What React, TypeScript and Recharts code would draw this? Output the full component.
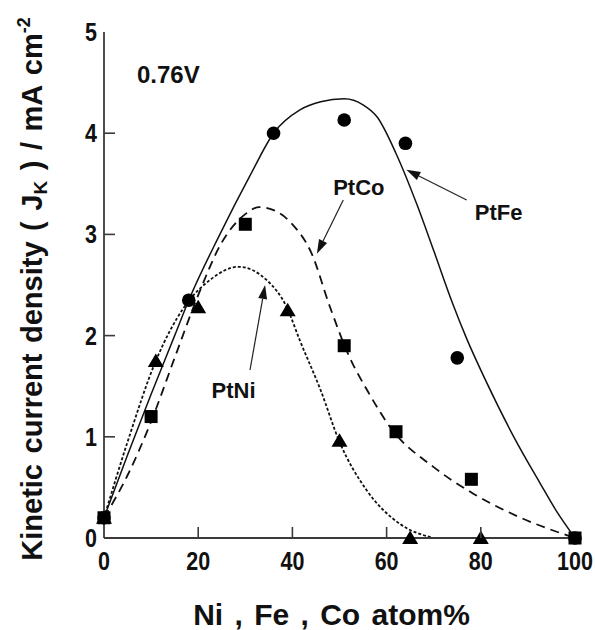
import { ComposedChart, Line, Scatter, XAxis, YAxis, ReferenceLine, ReferenceDot } from "recharts";

const FONT = '"Liberation Sans", Arial, Helvetica, sans-serif';
const AXIS = "#3a3a3a";

const X_TICKS = [0, 20, 40, 60, 80, 100];
const Y_TICKS = [0, 1, 2, 3, 4, 5];
const INNER_X = [20, 40, 60, 80];
const INNER_Y = [1, 2, 3, 4];

// measured points [atom%, Jk]
const FE_PTS = [[0, 0.2], [18, 2.35], [36, 4.0], [51, 4.13], [64, 3.9], [75, 1.78], [100, 0]];
const CO_PTS = [[0, 0.2], [10, 1.2], [30, 3.1], [51, 1.9], [62, 1.05], [78, 0.58], [100, 0]];
const NI_PTS = [[0, 0.2], [11, 1.75], [20, 2.28], [39, 2.25], [50, 0.96], [65, 0], [80, 0]];

// fitted curves
const FE_FIT = [[0, 0.2], [5, 0.82], [10, 1.42], [15, 2.0], [18, 2.35], [24.6, 3.0], [31, 3.58], [36, 4.0], [41.6, 4.23], [46, 4.31], [51, 4.34], [55, 4.28], [58, 4.16], [62, 3.8], [66.4, 3.3], [70, 2.84], [74, 2.32], [77, 1.97], [81, 1.56], [87, 1.0], [92.6, 0.54], [96, 0.27], [100, 0]];
const CO_FIT = [[0, 0.2], [5, 0.62], [10, 1.15], [15, 1.78], [20, 2.4], [25, 2.92], [30, 3.2], [33, 3.27], [36, 3.24], [40, 3.1], [44, 2.82], [48, 2.28], [52, 1.8], [56, 1.45], [61, 1.08], [70, 0.7], [78, 0.45], [88, 0.21], [100, 0]];
const NI_FIT = [[0, 0.2], [5, 0.95], [11, 1.75], [17, 2.28], [22.5, 2.55], [28.5, 2.68], [34.5, 2.55], [38.8, 2.28], [41.6, 1.95], [46, 1.46], [50, 0.95], [55.8, 0.47], [62.8, 0.14], [70, 0]];

// annotation arrows: tail -> head, in data units
const FE_ARROW = [[77, 3.34], [64.2, 3.64]];
const CO_ARROW = [[50.8, 3.34], [45.2, 2.81]];
const NI_ARROW = [[31, 1.66], [34.2, 2.5]];

const LABELS = [
  { text: "0.76V", x: 7, y: 4.5, anchor: "start", size: 24 },
  { text: "PtCo", x: 54.1, y: 3.39, anchor: "middle", size: 22 },
  { text: "PtFe", x: 83.8, y: 3.14, anchor: "middle", size: 22 },
  { text: "PtNi", x: 27.5, y: 1.38, anchor: "middle", size: 22 },
];

const toXY = (rows: number[][]) => rows.map(([x, y]) => ({ x, y }));

// tick digits in the figure are a narrow bold face; squeeze Liberation Sans
const Digits = ({ x, y, anchor, v }: any) => (
  <g transform={`translate(${x},${y}) scale(0.86,1)`}>
    <text x={0} y={0} textAnchor={anchor} fontSize={25} fontWeight="bold" fontFamily={FONT} fill="#111">{v}</text>
  </g>
);

const BottomTick = ({ x, y, payload }: any) => {
  const v = payload.value;
  return (
    <g>
      {INNER_X.includes(v) && <line x1={x} x2={x} y1={y} y2={y - 11} stroke={AXIS} strokeWidth={1.6} />}
      <Digits x={x} y={y + 32} anchor="middle" v={v} />
    </g>
  );
};

const LeftTick = ({ x, y, payload }: any) => {
  const v = payload.value;
  return (
    <g>
      {INNER_Y.includes(v) && <line x1={x} x2={x + 11} y1={y} y2={y} stroke={AXIS} strokeWidth={1.6} />}
      <Digits x={x - 7} y={y + 9} anchor="end" v={v} />
    </g>
  );
};

const TopTick = ({ x, y }: any) => <line x1={x} x2={x} y1={y} y2={y + 11} stroke={AXIS} strokeWidth={1.6} />;
const RightTick = ({ x, y }: any) => <line x1={x} x2={x - 11} y1={y} y2={y} stroke={AXIS} strokeWidth={1.6} />;

const XTitle = ({ viewBox }: any) => {
  const vb = viewBox ?? { x: 104, y: 538, width: 471, height: 92 };
  return (
    <text x={vb.x + vb.width / 2 - 8} y={vb.y + 87} textAnchor="middle" fontSize={30} fontWeight="bold" fontFamily={FONT} fill="#111" style={{ whiteSpace: "pre", wordSpacing: 3 }}>
      Ni , Fe , Co atom%
    </text>
  );
};

const YTitle = () => {
  const cx = 42;
  const cy = 289;
  return (
    <text x={cx} y={cy} transform={`rotate(-90, ${cx}, ${cy})`} textAnchor="middle" fontSize={29} fontWeight="bold" fontFamily={FONT} fill="#111" style={{ whiteSpace: "pre", wordSpacing: 2.5 }}>
      Kinetic current density ( J<tspan fontSize={19} dy={5}>K</tspan>
      <tspan dy={-5}> ) / mA cm</tspan>
      <tspan fontSize={18} dy={-12}>-2</tspan>
    </text>
  );
};

const Circle = ({ cx, cy }: any) => <circle cx={cx} cy={cy} r={6.8} fill="#000" />;
const Square = ({ cx, cy }: any) => <rect x={cx - 6.5} y={cy - 6.5} width={13} height={13} fill="#000" />;
const Triangle = ({ cx, cy }: any) => (
  <polygon points={`${cx},${cy - 7.5} ${cx + 8},${cy + 6} ${cx - 8},${cy + 6}`} fill="#000" />
);

const Arrow = ({ x1, y1, x2, y2 }: any) => {
  const dx = x2 - x1;
  const dy = y2 - y1;
  const len = Math.hypot(dx, dy) || 1;
  const ux = dx / len;
  const uy = dy / len;
  const hl = 14;
  const hw = 4.5;
  const bx = x2 - ux * hl;
  const by = y2 - uy * hl;
  return (
    <g>
      <line x1={x1} y1={y1} x2={bx} y2={by} stroke="#222" strokeWidth={1.2} />
      <polygon points={`${x2},${y2} ${bx - uy * hw},${by + ux * hw} ${bx + uy * hw},${by - ux * hw}`} fill="#111" />
    </g>
  );
};

export default function App() {
  return (
    <div style={{ position: "absolute", left: 0, top: 0, width: 595, height: 630, background: "#fff" }}>
      <ComposedChart width={595} height={630} margin={{ top: 32, right: 20, bottom: 0, left: 0 }}>
        <XAxis dataKey="x" type="number" domain={[0, 100]} ticks={X_TICKS} interval={0} height={92}
          tickSize={0} tickMargin={0} tickLine={false} axisLine={{ stroke: AXIS, strokeWidth: 1.8 }}
          tick={BottomTick} label={<XTitle />} />
        <XAxis xAxisId="top" orientation="top" dataKey="x" type="number" domain={[0, 100]} ticks={INNER_X} interval={0} height={0}
          tickSize={0} tickMargin={0} tickLine={false} axisLine={{ stroke: AXIS, strokeWidth: 1.8 }} tick={TopTick} />
        <YAxis dataKey="y" type="number" domain={[0, 5]} ticks={Y_TICKS} interval={0} width={104}
          tickSize={0} tickMargin={0} tickLine={false} axisLine={{ stroke: AXIS, strokeWidth: 1.8 }}
          tick={LeftTick} label={<YTitle />} />
        <YAxis yAxisId="right" orientation="right" type="number" domain={[0, 5]} ticks={INNER_Y} interval={0} width={0}
          tickSize={0} tickMargin={0} tickLine={false} axisLine={{ stroke: AXIS, strokeWidth: 1.8 }} tick={RightTick} />

        <Line data={toXY(FE_FIT)} dataKey="y" type="monotone" stroke="#111" strokeWidth={1.5} dot={false} activeDot={false} isAnimationActive={false} />
        <Line data={toXY(CO_FIT)} dataKey="y" type="monotone" stroke="#111" strokeWidth={1.8} strokeDasharray="9 6" dot={false} activeDot={false} isAnimationActive={false} />
        <Line data={toXY(NI_FIT)} dataKey="y" type="monotone" stroke="#111" strokeWidth={1.8} strokeDasharray="3 2" dot={false} activeDot={false} isAnimationActive={false} />

        <Scatter data={toXY(FE_PTS)} dataKey="y" shape={Circle} isAnimationActive={false} />
        <Scatter data={toXY(NI_PTS)} dataKey="y" shape={Triangle} isAnimationActive={false} />
        <Scatter data={toXY(CO_PTS)} dataKey="y" shape={Square} isAnimationActive={false} />

        {[FE_ARROW, CO_ARROW, NI_ARROW].map((a, i) => (
          <ReferenceLine key={i} segment={[{ x: a[0][0], y: a[0][1] }, { x: a[1][0], y: a[1][1] }]} shape={Arrow} />
        ))}
        {LABELS.map((l) => (
          <ReferenceDot key={l.text} x={l.x} y={l.y} r={0}
            shape={({ cx, cy }: any) => (
              <text x={cx} y={cy} textAnchor={l.anchor as any} fontSize={l.size} fontWeight="bold" fontFamily={FONT} fill="#111">{l.text}</text>
            )} />
        ))}
      </ComposedChart>
    </div>
  );
}
